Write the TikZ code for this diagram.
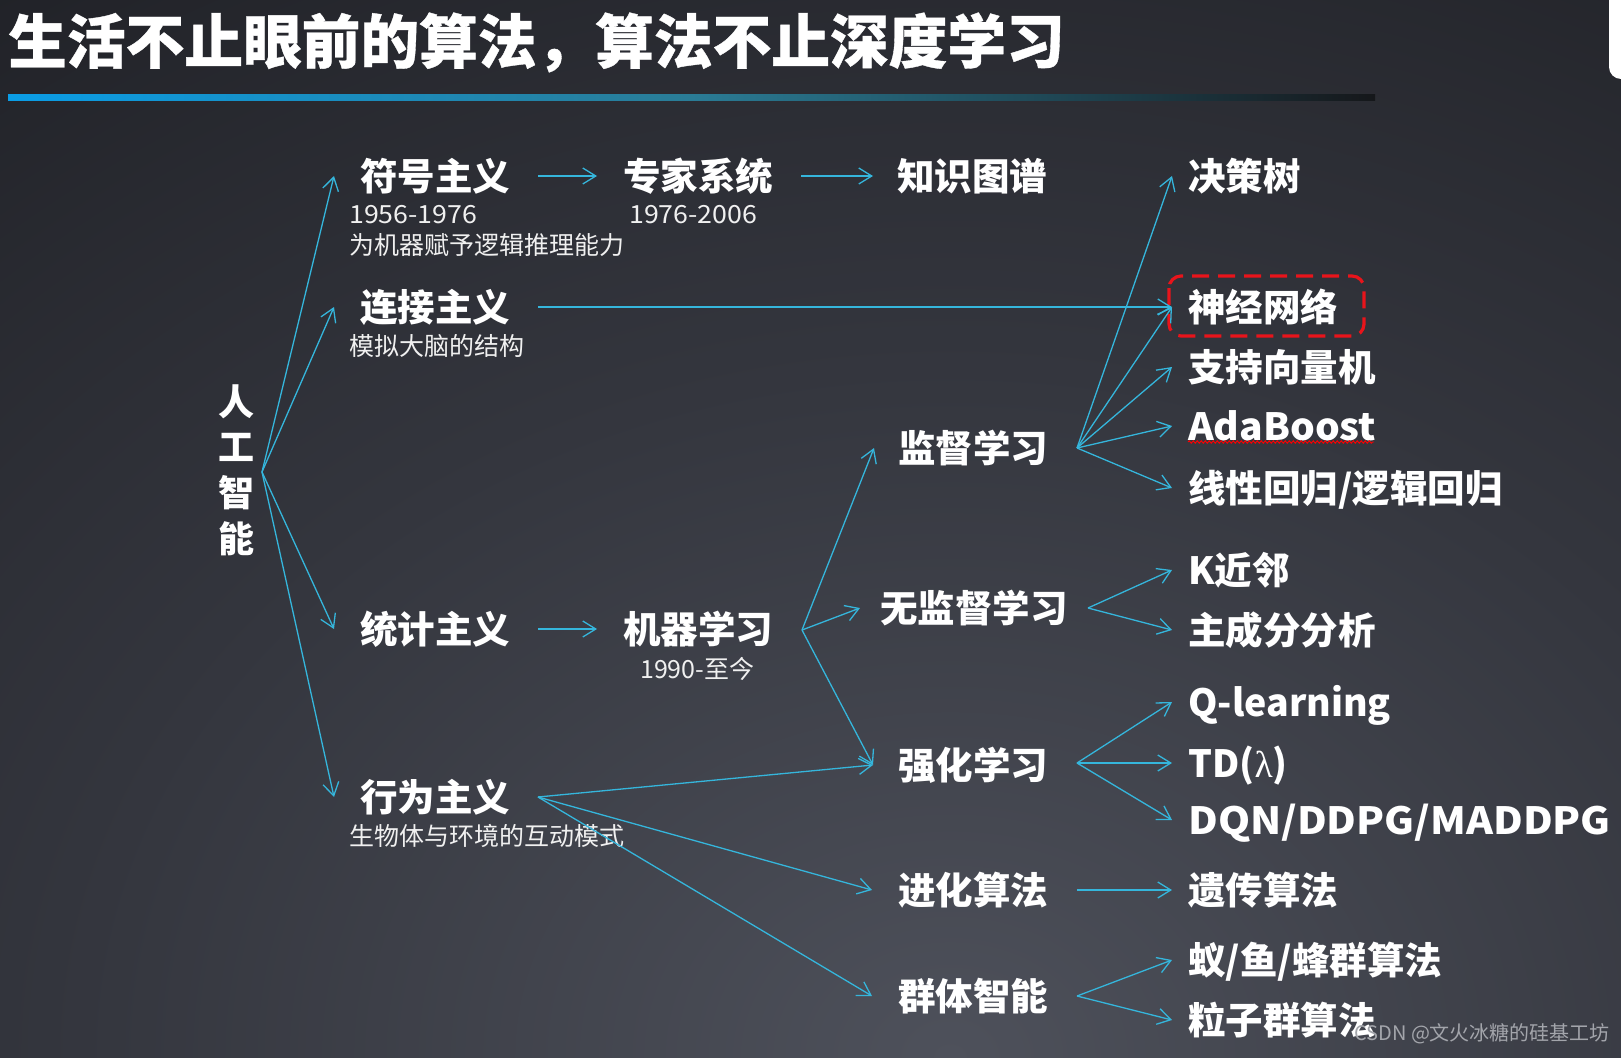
\documentclass[tikz,border=0pt]{standalone}
\usepackage{fontspec}
\setmainfont{Noto Sans CJK SC}
\newfontfamily\lamfont{Liberation Serif}
\usetikzlibrary{arrows.meta,decorations.pathmorphing}
\definecolor{bgA}{HTML}{4E515B}
\definecolor{bgB}{HTML}{34363E}
\definecolor{bgC}{HTML}{1C1D22}
\definecolor{bgD}{HTML}{0B0C0E}
\definecolor{arrowc}{HTML}{35B6DC}
\definecolor{lineA}{HTML}{0A9DE6}
\definecolor{lineB}{HTML}{2A7C96}
\definecolor{lineC}{HTML}{15171A}
\definecolor{redbox}{HTML}{E8141B}
\definecolor{wm}{HTML}{A3A5AB}
\pgfdeclareradialshading{bgshade}{\pgfpoint{0bp}{0bp}}{color(0bp)=(bgA); color(15bp)=(bgB); color(32bp)=(bgC); color(50bp)=(bgD)}
\tikzset{
  big/.style={font=\bfseries\fontsize{37.5}{40}\selectfont, text=white, inner sep=0pt, anchor=west, text height=31pt, text depth=2.6pt},
  sub/.style={font=\fontsize{25}{28}\selectfont, text=white!94!black, inner sep=0pt, anchor=west, text height=20.7pt, text depth=1.8pt},
  arr/.style={draw=arrowc, line width=1.3pt, -{Straight Barb[length=13pt,width=16pt,line width=1.3pt]}},
}
\begin{document}
\begin{tikzpicture}[x=1pt,y=-1pt]
\useasboundingbox (0,0) rectangle (1621,1057);
% background
\begin{scope}
\clip (0,0) rectangle (1621,1057);
\fill[bgD] (0,0) rectangle (1621,1057);
\shade[shading=bgshade] (-500,-93) rectangle (2400,2207);
\end{scope}
% white corner shape
\fill[white, rounded corners=12pt] (1609,-30) rectangle (1660,79);
% title
\node[font=\bfseries\fontsize{58.7}{62}\selectfont\addfontfeature{FakeBold=0.6}, text=white, inner sep=0pt, anchor=west, text height=48.7pt, text depth=4.1pt] (title) at (8,41) {生活不止眼前的算法，算法不止深度学习};
\shade[left color=lineA, right color=lineC, middle color=lineB] (8,94) rectangle (1375,100);

% root
\node[font=\bfseries\fontsize{36}{45.7}\selectfont, text=white, inner sep=0pt, align=center] (ai) at (236,470) {人\\工\\智\\能};
\coordinate (aiO) at (262,472);

% level 1
\node[big] (fh) at (360,176) {符号主义};
\node[sub] (fh1) at (349,214) {\addfontfeature{FakeStretch=1.07}1956-1976};
\node[sub] (fh2) at (349,245) {为机器赋予逻辑推理能力};
\node[big] (lj) at (360,307) {连接主义};
\node[sub] (lj1) at (349,346) {模拟大脑的结构};
\node[big] (tj) at (360,629) {统计主义};
\node[big] (xw) at (360,797) {行为主义};
\node[sub] (xw1) at (349,836) {生物体与环境的互动模式};

% level 2
\node[big] (zj) at (623,176) {专家系统};
\node[sub] (zj1) at (629,214) {\addfontfeature{FakeStretch=1.07}1976-2006};
\node[big] (jq) at (623,629) {机器学习};
\node[sub] (jq1) at (640,669) {1990-至今};
\node[big] (zs) at (897,176) {知识图谱};

% level 3
\node[big] (jd) at (898,448) {监督学习};
\node[big] (wj) at (880,608) {无监督学习};
\node[big] (qh) at (898,765) {强化学习};
\node[big] (jh) at (898,890) {进化算法};
\node[big] (qt) at (898,996) {群体智能};

% level 4
\node[big] (jcs) at (1188,176) {决策树};
\node[big] (sj) at (1188,307) {神经网络};
\node[big] (zc) at (1188,367) {支持向量机};
\node[big] (ada) at (1188,426) {\addfontfeature{FakeStretch=1.04}AdaBoost};
\node[big] (xx) at (1188,488) {线性回归/逻辑回归};
\node[big] (kn) at (1188,570) {K近邻};
\node[big] (zcf) at (1188,630) {主成分分析};
\node[big] (ql) at (1188,702) {Q-learning};
\node[big] (td) at (1188,763) {TD({\mdseries\lamfont λ})};
\node[big] (dqn) at (1188,820) {\addfontfeature{FakeStretch=1.09}DQN/DDPG/MADDPG};
\node[big] (yc) at (1188,890) {遗传算法};
\node[big] (ym) at (1188,960) {蚁/鱼/蜂群算法};
\node[big] (lz) at (1188,1020) {粒子群算法};

% red dashed box and squiggle
\draw[redbox, line width=3.2pt, dash pattern=on 17pt off 9pt, rounded corners=12pt] (1169,276) rectangle (1364,336);
\draw[red, line width=0.9pt, decorate, decoration={snake, amplitude=1.2pt, segment length=4pt}] (1188,442) -- (1374,442);

% watermark
\node[font=\fontsize{20}{22}\selectfont, text=wm, inner sep=0pt, anchor=west] (wmk) at (1354,1034) {CSDN @文火冰糖的硅基工坊};

% fan origins
\coordinate (jqO) at (802,630);
\coordinate (xwO) at (538,797);
\coordinate (jdO) at (1077,448);
\coordinate (wjO) at (1088,608);
\coordinate (qhO) at (1077,763);
\coordinate (qtO) at (1077,996);

% arrows from root
\draw[arr] (aiO) -- ([xshift=-26pt]fh.west);
\draw[arr] (aiO) -- ([xshift=-26pt]lj.west);
\draw[arr] (aiO) -- ([xshift=-26pt]tj.west);
\draw[arr] (aiO) -- ([xshift=-26pt]xw.west);

% chains
\draw[arr] ([xshift=28pt]fh.east) -- ([xshift=-26pt]zj.west);
\draw[arr] ([xshift=28pt]zj.east) -- ([xshift=-24pt]zs.west);
\draw[arr] ([xshift=28pt]tj.east) -- ([xshift=-26pt]jq.west);
\draw[arr] ([xshift=28pt]lj.east) -- ([xshift=-16pt]sj.west);

% machine learning fan
\draw[arr] (jqO) -- ([xshift=-24pt]jd.west);
\draw[arr] (jqO) -- ([xshift=-20pt]wj.west);
\draw[arr] (jqO) -- ([xshift=-25pt]qh.west);

% behaviour fan
\draw[arr] (xwO) -- ([xshift=-25pt]qh.west);
\draw[arr] (xwO) -- ([xshift=-26pt]jh.west);
\draw[arr] (xwO) -- ([xshift=-26pt]qt.west);

% supervised fan
\draw[arr] (jdO) -- ([xshift=-16pt]jcs.west);
\draw[arr] (jdO) -- ([xshift=-16pt]sj.west);
\draw[arr] (jdO) -- ([xshift=-16pt]zc.west);
\draw[arr] (jdO) -- ([xshift=-16pt]ada.west);
\draw[arr] (jdO) -- ([xshift=-16pt]xx.west);

% unsupervised fan
\draw[arr] (wjO) -- ([xshift=-16pt]kn.west);
\draw[arr] (wjO) -- ([xshift=-16pt]zcf.west);

% RL fan
\draw[arr] (qhO) -- ([xshift=-16pt]ql.west);
\draw[arr] (qhO) -- ([xshift=-16pt]td.west);
\draw[arr] (qhO) -- ([xshift=-16pt]dqn.west);

% evolution
\draw[arr] ([xshift=29pt]jh.east) -- ([xshift=-16pt]yc.west);

% swarm fan
\draw[arr] (qtO) -- ([xshift=-16pt]ym.west);
\draw[arr] (qtO) -- ([xshift=-16pt]lz.west);
\end{tikzpicture}
\end{document}
